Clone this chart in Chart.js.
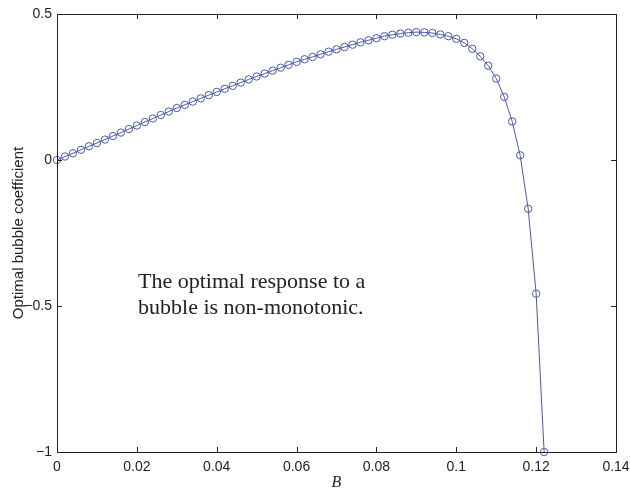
<html>
<head>
<meta charset="utf-8">
<style>
  html, body { margin: 0; padding: 0; background: #fff; }
  #wrap { width: 630px; height: 489px; }
</style>
</head>
<body>
<div id="wrap"><canvas id="myChart" width="630" height="489"></canvas></div>
<script src="https://cdn.jsdelivr.net/npm/chart.js@4.4.0/dist/chart.umd.min.js"></script>
<script>
// B values, step 0.002
var bValues = [0, 0.002, 0.004, 0.006, 0.008, 0.010, 0.012, 0.014, 0.016, 0.018,
  0.020, 0.022, 0.024, 0.026, 0.028, 0.030, 0.032, 0.034, 0.036, 0.038,
  0.040, 0.042, 0.044, 0.046, 0.048, 0.050, 0.052, 0.054, 0.056, 0.058,
  0.060, 0.062, 0.064, 0.066, 0.068, 0.070, 0.072, 0.074, 0.076, 0.078,
  0.080, 0.082, 0.084, 0.086, 0.088, 0.090, 0.092, 0.094, 0.096, 0.098,
  0.100, 0.102, 0.104, 0.106, 0.108, 0.110, 0.112, 0.114, 0.116, 0.118,
  0.120, 0.122];
// optimal bubble coefficient
var coef = [0.000, 0.012, 0.023, 0.035, 0.047, 0.058, 0.070, 0.082, 0.094, 0.106,
  0.118, 0.130, 0.142, 0.154, 0.166, 0.178, 0.189, 0.200, 0.211, 0.222,
  0.233, 0.244, 0.254, 0.265, 0.276, 0.286, 0.296, 0.306, 0.316, 0.326,
  0.336, 0.345, 0.353, 0.362, 0.371, 0.379, 0.387, 0.395, 0.403, 0.410,
  0.417, 0.424, 0.429, 0.433, 0.436, 0.438, 0.437, 0.435, 0.430, 0.424,
  0.415, 0.401, 0.381, 0.355, 0.323, 0.279, 0.216, 0.132, 0.016, -0.167,
  -0.458, -1.000];
var xTicks = [0, 0.02, 0.04, 0.06, 0.08, 0.1, 0.12, 0.14];
var yTicks = [-1, -0.5, 0, 0.5];
var noteLines = ['The optimal response to a', 'bubble is non-monotonic.'];

var lineColor = '#4a5aa4';
var pts = bValues.map(function(b, i) { return {x: b, y: coef[i]}; });

function fmt(v) {
  var s = parseFloat(v.toFixed(2)).toString();
  return s.replace('-', '\u2212');
}

// box + inward ticks on all four sides, plus the note text
var boxPlugin = {
  id: 'box',
  afterDraw: function(chart) {
    var ctx = chart.ctx, a = chart.chartArea;
    var xs = chart.scales.x, ys = chart.scales.y;
    ctx.save();
    ctx.strokeStyle = '#222';
    ctx.lineWidth = 1;
    ctx.strokeRect(Math.round(a.left) + 0.5, Math.round(a.top) + 0.5,
      Math.round(a.right - a.left), Math.round(a.bottom - a.top));
    ctx.beginPath();
    var t = 5;
    xTicks.forEach(function(v) {
      var px = Math.round(xs.getPixelForValue(v)) + 0.5;
      ctx.moveTo(px, a.bottom); ctx.lineTo(px, a.bottom - t);
      ctx.moveTo(px, a.top); ctx.lineTo(px, a.top + t);
    });
    yTicks.forEach(function(v) {
      var py = Math.round(ys.getPixelForValue(v)) + 0.5;
      ctx.moveTo(a.left, py); ctx.lineTo(a.left + t, py);
      ctx.moveTo(a.right, py); ctx.lineTo(a.right - t, py);
    });
    ctx.stroke();
    // note
    ctx.fillStyle = '#222';
    ctx.font = '22px "Liberation Serif", serif';
    ctx.textBaseline = 'alphabetic';
    ctx.textAlign = 'left';
    var nx = xs.getPixelForValue(0.0203);
    ctx.fillText(noteLines[0], nx, ys.getPixelForValue(-0.438));
    ctx.fillText(noteLines[1], nx, ys.getPixelForValue(-0.527));
    ctx.restore();
  }
};

var chart = new Chart(document.getElementById('myChart'), {
  type: 'scatter',
  data: {
    datasets: [{
      data: pts,
      showLine: true,
      borderColor: lineColor,
      borderWidth: 1,
      pointStyle: 'circle',
      pointRadius: 3.7,
      pointBorderWidth: 1,
      pointBackgroundColor: 'rgba(0,0,0,0)',
      pointBorderColor: lineColor,
      clip: false
    }]
  },
  plugins: [boxPlugin],
  options: {
    responsive: false,
    animation: false,
    layout: { padding: { top: 14, right: 14, left: 0, bottom: 0 } },
    plugins: { legend: { display: false }, tooltip: { enabled: false } },
    scales: {
      x: {
        type: 'linear', min: 0, max: 0.14,
        afterBuildTicks: function(s) { s.ticks = xTicks.map(function(v) { return {value: v}; }); },
        afterFit: function(s) { s.height = 37; s.paddingLeft = 0; s.paddingRight = 0; },
        grid: { display: false, drawTicks: false },
        border: { display: false },
        ticks: {
          padding: 7, color: '#222',
          font: { family: '"Liberation Sans", Arial, sans-serif', size: 14 },
          callback: function(v) { return fmt(v); }
        },
        title: {
          display: true, text: 'B', color: '#222', padding: { top: 0, bottom: -3 },
          font: { family: '"Liberation Serif", serif', size: 16, style: 'italic' }
        }
      },
      y: {
        type: 'linear', min: -1, max: 0.5,
        afterBuildTicks: function(s) { s.ticks = yTicks.map(function(v) { return {value: v}; }); },
        afterFit: function(s) { s.width = 57; s.paddingTop = 0; s.paddingBottom = 0; },
        grid: { display: false, drawTicks: false },
        border: { display: false },
        ticks: {
          padding: 5, color: '#222',
          font: { family: '"Liberation Sans", Arial, sans-serif', size: 14 },
          callback: function(v) { return fmt(v); }
        },
        title: {
          display: true, text: 'Optimal bubble coefficient', color: '#222',
          padding: { top: 10, bottom: 0 },
          font: { family: '"Liberation Sans", Arial, sans-serif', size: 15 }
        }
      }
    }
  }
});
</script>
</body>
</html>
